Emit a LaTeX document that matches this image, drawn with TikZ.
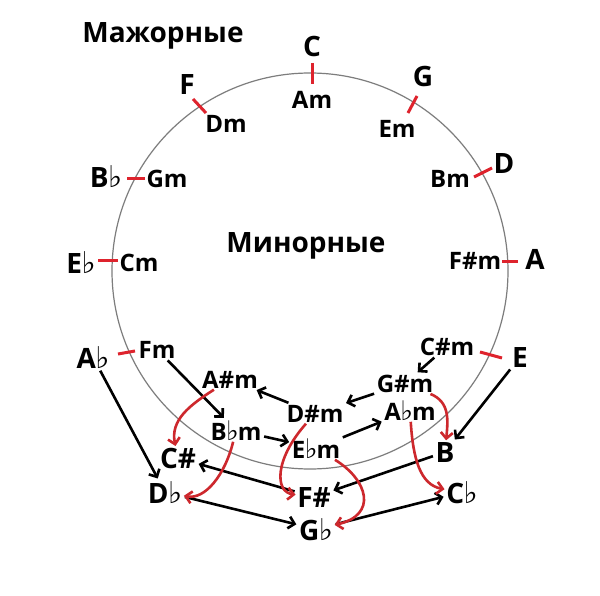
\documentclass[tikz,border=0pt]{standalone}
\usepackage{fontspec}
\setmainfont{Open Sans}
\newfontfamily\flatfont{DejaVu Sans}
\usetikzlibrary{arrows.meta}
\newcommand{\fmaj}{{\flatfont\fontsize{30}{30}\selectfont\kern-0.5pt♭}}
\newcommand{\fmin}{{\flatfont\fontsize{27}{27}\selectfont\kern-0.5pt♭\kern-1pt}}
\definecolor{tickred}{RGB}{222,35,45}
\definecolor{arrred}{RGB}{205,40,45}
\definecolor{circgray}{RGB}{125,125,125}
\tikzset{
  maj/.style={font=\fontsize{28}{28}\selectfont\bfseries, inner sep=1.5pt, anchor=base},
  mnr/.style={font=\fontsize{24}{24}\selectfont\bfseries, inner sep=1.5pt, anchor=base},
  redtick/.style={draw=tickred, line width=3},
  blk/.style={draw=black, line width=2.6, -{Straight Barb[length=6,width=12]}, shorten >=1, shorten <=1},
  redarr/.style={draw=arrred, line width=2.6, -{Straight Barb[length=6,width=12]}}
}
\begin{document}
\begin{tikzpicture}[x=1pt,y=-1pt]
\useasboundingbox (0,0) rectangle (600,596);
\fill[white] (0,0) rectangle (600,596);
\node[circle, draw=circgray, line width=1.2, minimum size=396, inner sep=0] (ring) at (310,271) {};
% titles
\node[maj] (tmaj) at (163,43) {Мажорные};
\node[maj] (tmin) at (306,253) {Минорные};
% outer labels
\node[maj] (C) at (312,57) {C};
\node[mnr] (Am) at (312,109) {Am};
\node[maj] (G) at (423,87) {G};
\node[mnr] (Em) at (397,138) {Em};
\node[maj] (F) at (187,95) {F};
\node[mnr] (Dm) at (226,133) {Dm};
\node[maj] (D) at (504,174) {D};
\node[mnr] (Bm) at (450,188) {Bm};
\node[maj] (Bb) at (106,188) {B\fmaj};
\node[mnr] (Gm) at (167,188) {Gm};
\node[maj] (Eb) at (81,273) {E\fmaj};
\node[mnr] (Cm) at (139,272) {Cm};
\node[maj] (A) at (535,270) {A};
\node[mnr] (Fism) at (475,270) {F\#m};
\node[maj] (Ab) at (93,368) {A\fmaj};
\node[mnr] (Fm) at (157,358) {Fm};
\node[maj] (E) at (520,367) {E};
\node[mnr] (Cism) at (447,355) {C\#m};
% enharmonic cluster
\node[mnr] (Aism) at (230,388) {A\#m};
\node[mnr] (Bbm) at (236,440) {B\fmin m};
\node[mnr] (Dism) at (315,422) {D\#m};
\node[mnr] (Ebm) at (316,458) {E\fmin m};
\node[mnr] (Gism) at (405,392) {G\#m};
\node[mnr] (Abm) at (410,420) {A\fmin m};
\node[maj] (Cis) at (178,468) {C\#};
\node[maj] (Db) at (165,503) {D\fmaj};
\node[maj] (Fis) at (314,507) {F\#};
\node[maj] (Gb) at (316,540) {G\fmaj};
\node[maj] (B) at (445,462) {B};
\node[maj] (Cb) at (462,503) {C\fmaj};
% red ticks on the circle
\coordinate (tC1) at (312,63);  \coordinate (tC2) at (312,84);
\coordinate (tG1) at (417,96);  \coordinate (tG2) at (408,113);
\coordinate (tF1) at (193,99);  \coordinate (tF2) at (206,113);
\coordinate (tD1) at (492,168); \coordinate (tD2) at (474,177);
\coordinate (tB1) at (127,179); \coordinate (tB2) at (145,179);
\coordinate (tE1) at (98,261);  \coordinate (tE2) at (118,261);
\coordinate (tA1) at (502,262); \coordinate (tA2) at (518,262);
\coordinate (tAb1) at (118,354); \coordinate (tAb2) at (135,351);
\coordinate (tEE1) at (480,352); \coordinate (tEE2) at (502,358);
\foreach \p in {C,G,F,D,B,E,A,Ab,EE}{
  \draw[redtick] (t\p1) -- (t\p2);
}
% black arrows
\draw[blk] (Fm) -- (Bbm);
\draw[blk] (Dism) -- (Aism);
\draw[blk] (Bbm) -- (Ebm);
\draw[blk] (Ab) -- (Db);
\draw[blk] (Db) -- (Gb);
\draw[blk] (Fis) -- (Cis);
\draw[blk] (Cism) -- (Gism);
\draw[blk] (Gism) -- (Dism);
\draw[blk] (Ebm) -- (Abm);
\draw[blk] (E) -- (B);
\draw[blk] (B) -- (Fis);
\draw[blk] (Gb) -- (Cb);
% red curved arrows
\draw[redarr] (Aism) .. controls (190,405) and (170,420) .. (Cis);
\draw[redarr] (Bbm) .. controls (225,475) and (205,500) .. (Db);
\draw[redarr] (Dism) .. controls (274,460) and (275,492) .. (Fis);
\draw[redarr] (Ebm) .. controls (368,480) and (378,515) .. (Gb);
\draw[redarr] (Gism) .. controls (450,402) and (448,420) .. (B);
\draw[redarr] (Abm) .. controls (413,458) and (420,485) .. (Cb);
\end{tikzpicture}
\end{document}
